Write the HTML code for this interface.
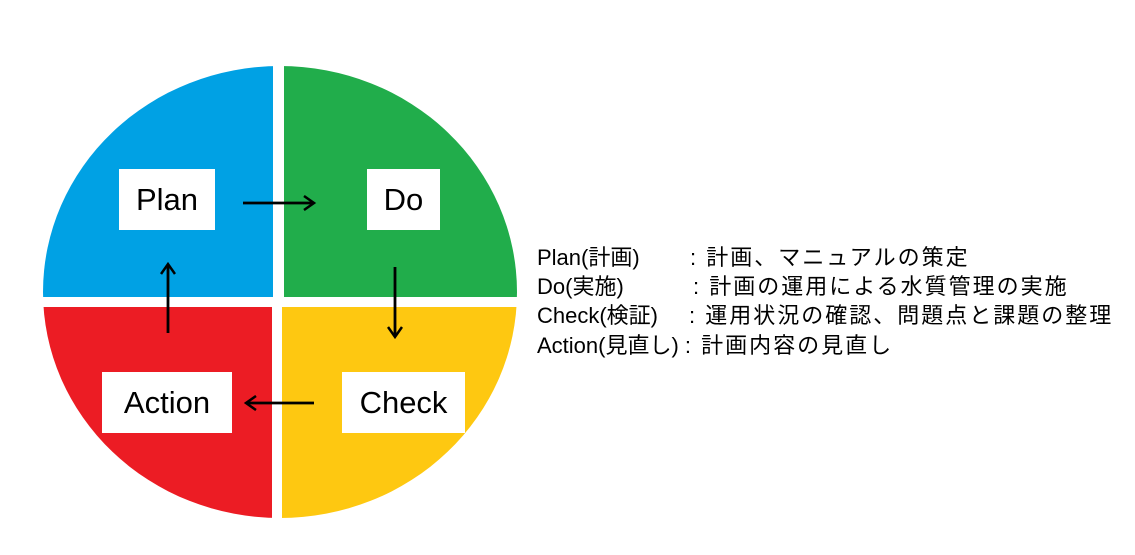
<!DOCTYPE html>
<html><head><meta charset="utf-8"><style>
body{margin:0;width:1135px;height:555px;background:#fff;position:relative;overflow:hidden;font-family:"Liberation Sans","Noto Sans CJK JP",sans-serif}
.box{position:absolute;background:#fff;display:flex;align-items:center;justify-content:center;font-size:31px;color:#000}
.t{position:absolute;font-size:22px;line-height:26px;color:#000;white-space:nowrap}
.c{letter-spacing:2px}
</style></head><body>
<svg width="1135" height="555" style="position:absolute;left:0;top:0">
<defs><clipPath id="c"><ellipse cx="280" cy="292" rx="237" ry="226"/></clipPath>
<marker id="a" markerWidth="16" markerHeight="16" refX="13" refY="8" orient="auto" markerUnits="userSpaceOnUse"><path d="M3,1 L13,8 L3,15" fill="none" stroke="#000" stroke-width="2.5"/></marker></defs>
<g clip-path="url(#c)">
<rect x="40" y="60" width="233" height="237" fill="#00a1e4"/>
<rect x="284" y="60" width="240" height="237" fill="#21ad4b"/>
<rect x="40" y="307" width="232" height="220" fill="#ec1c24"/>
<rect x="282" y="307" width="240" height="220" fill="#fec811"/>
</g>
<g stroke="#000" stroke-width="2.8" marker-end="url(#a)">
<line x1="243" y1="203" x2="314" y2="203"/>
<line x1="395" y1="267" x2="395" y2="337"/>
<line x1="314" y1="403" x2="246" y2="403"/>
<line x1="168" y1="333" x2="168" y2="264"/>
</g>
</svg>
<div class="box" style="left:119px;top:169px;width:96px;height:61px">Plan</div>
<div class="box" style="left:367px;top:169px;width:73px;height:61px">Do</div>
<div class="box" style="left:102px;top:372px;width:130px;height:61px">Action</div>
<div class="box" style="left:342px;top:372px;width:123px;height:61px">Check</div>
<div class="t" style="left:537px;top:245px">Plan(計画)</div><div class="t c" style="left:690px;top:245px">: 計画、マニュアルの策定</div>
<div class="t" style="left:537px;top:274px">Do(実施)</div><div class="t c" style="left:693px;top:274px">: 計画の運用による水質管理の実施</div>
<div class="t" style="left:537px;top:303px">Check(検証)</div><div class="t c" style="left:689px;top:303px">: 運用状況の確認、問題点と課題の整理</div>
<div class="t" style="left:537px;top:333px">Action(見直し) <span class="c">: 計画内容の見直し</span></div>
</body></html>
